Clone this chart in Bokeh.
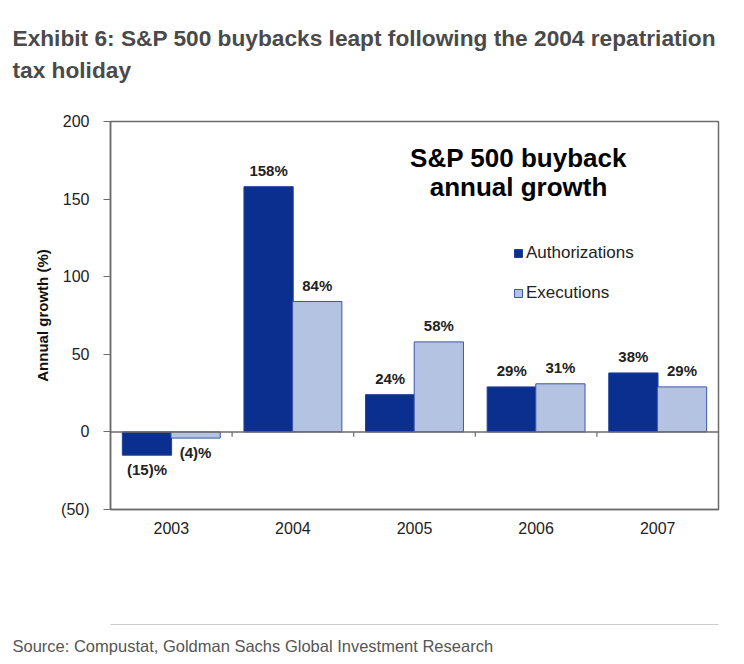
from bokeh.plotting import figure
from bokeh.models import (ColumnDataSource, Label, LabelSet, Legend, LegendItem,
                          FixedTicker, Span, Title, LinearAxis, Range1d)
from bokeh.core.properties import value
from bokeh.embed import file_html
from bokeh.resources import INLINE

# ---- data ----
years = ["2003", "2004", "2005", "2006", "2007"]
authorizations = [-15, 158, 24, 29, 38]
executions = [-4, 84, 58, 31, 29]
y_ticks = [-50, 0, 50, 100, 150, 200]
y_tick_labels = ["(50)", "0", "50", "100", "150", "200"]

AUTH_COLOR = "#0b2f8f"
EXEC_COLOR = "#b4c3e1"
FONT = "Liberation Sans"
GRAY = "#6b6b6b"

n = len(years)
centers = [i + 0.5 for i in range(n)]
bar_w = 0.405
off = 0.2


def fmt(v):
    return f"({abs(v)})%" if v < 0 else f"{v}%"


auth_src = ColumnDataSource(dict(x=[c - off for c in centers], top=authorizations))
exec_src = ColumnDataSource(dict(x=[c + off for c in centers], top=executions))

p = figure(width=744, height=664, output_backend="svg", toolbar_location=None,
           x_range=(0, n), y_range=(-50, 200), title_location=None,
           min_border_left=110, min_border_right=26, min_border_top=121, min_border_bottom=155)
p.background_fill_color = "white"
p.border_fill_color = "white"
p.grid.visible = False
p.outline_line_color = GRAY
p.outline_line_width = 1.5

r_auth = p.vbar(x="x", top="top", bottom=0, width=bar_w, source=auth_src,
                fill_color=AUTH_COLOR, line_color="#1f3f99", line_width=1)
r_exec = p.vbar(x="x", top="top", bottom=0, width=bar_w, source=exec_src,
                fill_color=EXEC_COLOR, line_color="#3b56a8", line_width=1)

# zero line with category-boundary ticks
p.add_layout(Span(location=0, dimension="width", line_color=GRAY, line_width=1.5))
p.segment(x0=list(range(1, n)), x1=list(range(1, n)), y0=[0] * (n - 1), y1=[-3.2] * (n - 1),
          line_color=GRAY, line_width=1.2)

# x axis
p.xaxis.ticker = FixedTicker(ticks=centers)
p.xaxis.major_label_overrides = {c: y for c, y in zip(centers, years)}
p.xaxis.major_tick_line_color = None
p.xaxis.minor_tick_line_color = None
p.xaxis.axis_line_color = GRAY
p.xaxis.axis_line_width = 1.5
p.xaxis.major_label_text_font = FONT
p.xaxis.major_label_text_font_size = "16px"
p.xaxis.major_label_text_color = "#222222"
p.xaxis.major_label_standoff = 6

# y axis
p.yaxis.ticker = FixedTicker(ticks=y_ticks)
p.yaxis.major_label_overrides = {t: l for t, l in zip(y_ticks, y_tick_labels)}
p.yaxis.minor_tick_line_color = None
p.yaxis.major_tick_out = 7
p.yaxis.major_tick_in = 0
p.yaxis.major_tick_line_color = GRAY
p.yaxis.axis_line_color = GRAY
p.yaxis.axis_line_width = 1.5
p.yaxis.major_label_text_font = FONT
p.yaxis.major_label_text_font_size = "16px"
p.yaxis.major_label_text_color = "#222222"
p.yaxis.major_label_standoff = 14
p.yaxis.axis_label = "Annual growth (%)"
p.yaxis.axis_label_text_font = FONT
p.yaxis.axis_label_text_font_style = "bold"
p.yaxis.axis_label_text_font_size = "15px"
p.yaxis.axis_label_text_color = "#111111"
p.yaxis.axis_label_standoff = 7

# data labels
for xs, vals in ((auth_src.data["x"], authorizations), (exec_src.data["x"], executions)):
    pos = ColumnDataSource(dict(
        x=[x for x, v in zip(xs, vals) if v >= 0],
        y=[v for v in vals if v >= 0],
        label=[fmt(v) for v in vals if v >= 0]))
    neg = ColumnDataSource(dict(
        x=[x for x, v in zip(xs, vals) if v < 0],
        y=[v for v in vals if v < 0],
        label=[fmt(v) for v in vals if v < 0]))
    p.add_layout(LabelSet(x="x", y="y", text="label", source=pos, text_align="center",
                          text_baseline="alphabetic", y_offset=11, text_font=value(FONT),
                          text_font_style="bold", text_font_size="15px", text_color="#222222"))
    p.add_layout(LabelSet(x="x", y="y", text="label", source=neg, text_align="center",
                          text_baseline="top", y_offset=-6, text_font=value(FONT),
                          text_font_style="bold", text_font_size="15px", text_color="#222222"))

# inner title
for txt, yy in (("S&P 500 buyback", 352), ("annual growth", 323)):
    p.add_layout(Label(x=408, y=yy, x_units="screen", y_units="screen", text=txt,
                       text_align="center", text_baseline="middle", text_font=FONT,
                       text_font_style="bold", text_font_size="26px", text_color="#000000"))

# legend
legend = Legend(items=[LegendItem(label="Authorizations", renderers=[r_auth]),
                       LegendItem(label="Executions", renderers=[r_exec])],
                location=(403, 206), orientation="vertical",
                glyph_width=10, glyph_height=10, label_height=20, spacing=20,
                label_standoff=3, padding=0, margin=0,
                border_line_color=None, background_fill_alpha=0,
                label_text_font=FONT, label_text_font_size="17px", label_text_color="#222222")
p.add_layout(legend)

# ---- page title (two lines, above the plot, with a spacer next to the frame) ----
p.add_layout(Title(text=" ", text_font_size="1px", standoff=36), "above")
title_style = dict(align="left", offset=-98, text_font=FONT, text_font_style="bold",
                   text_font_size="22.7px", text_color="#4a4a4a")
p.add_layout(Title(text="tax holiday", standoff=0, **title_style), "above")
p.add_layout(Title(text="Exhibit 6: S&P 500 buybacks leapt following the 2004 repatriation",
                   standoff=7, **title_style), "above")

# ---- spacer, separator rule, and source line below ----
p.add_layout(Title(text=" ", text_font_size="77px", standoff=0), "below")
p.extra_x_ranges = {"sep": Range1d(0, 1)}
sep = LinearAxis(x_range_name="sep", ticker=FixedTicker(ticks=[]),
                 axis_line_color="#cccccc", axis_line_width=1,
                 major_tick_line_color=None, minor_tick_line_color=None,
                 major_label_text_font_size="0px")
p.add_layout(sep, "below")
p.add_layout(Title(text="Source: Compustat, Goldman Sachs Global Investment Research",
                   align="left", offset=-98, standoff=20, text_font=FONT,
                   text_font_style="normal", text_font_size="16.5px",
                   text_color="#555555"), "below")

open("out.html", "w").write(file_html(p, INLINE))
